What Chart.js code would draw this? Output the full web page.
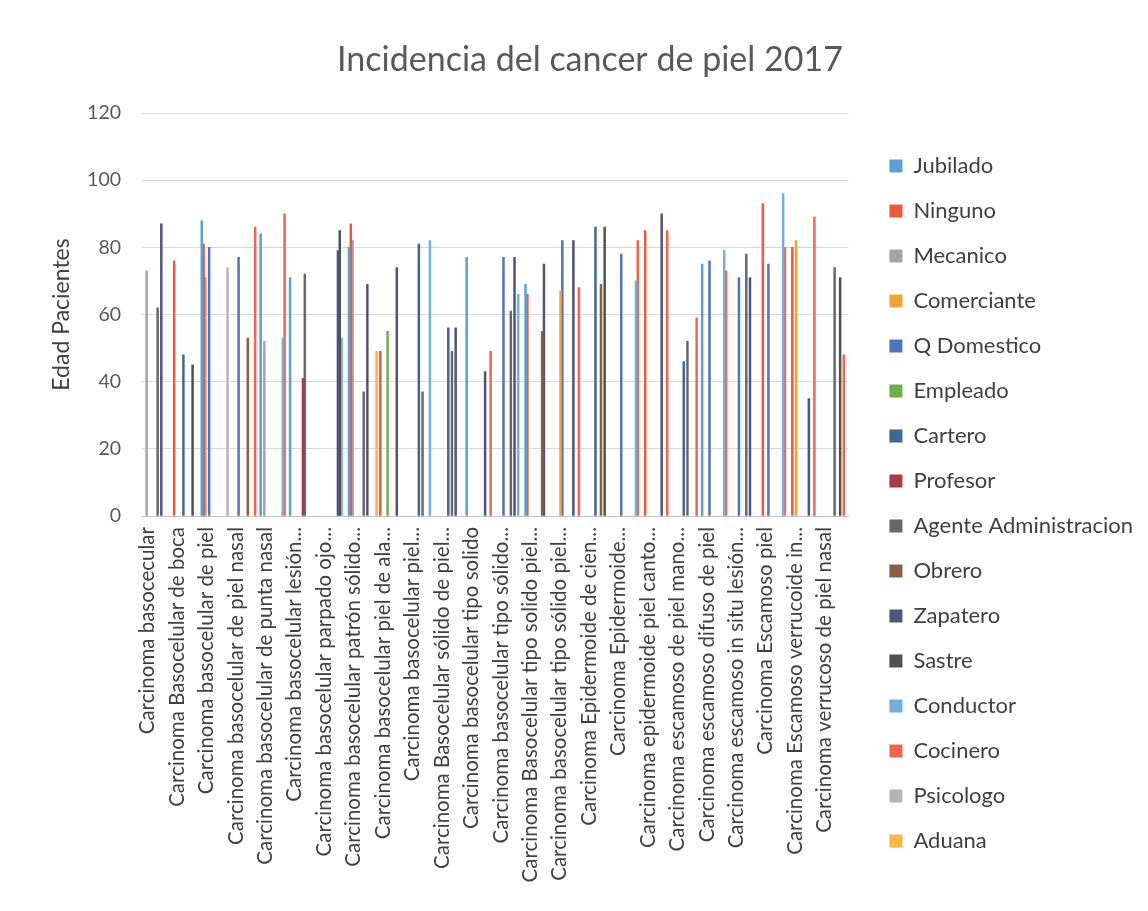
<!DOCTYPE html>
<html>
<head>
<meta charset="utf-8">
<script src="https://cdn.jsdelivr.net/npm/chart.js@4.4.1/dist/chart.umd.min.js"></script>
<style>
  html, body { margin: 0; padding: 0; background: #fff; }
  #wrap { width: 1148px; height: 911px; }
</style>
</head>
<body>
<div id="wrap"><canvas id="chart" width="1148" height="911"></canvas></div>
<script>
const _ = null

const categories = [
  "Carcinoma basocecular",
  "Carcinoma Basocelular de boca",
  "Carcinoma basocelular de piel",
  "Carcinoma basocelular de piel nasal",
  "Carcinoma basocelular de punta nasal",
  "Carcinoma basocelular lesión...",
  "Carcinoma basocelular parpado ojo...",
  "Carcinoma basocelular patrón sólido...",
  "Carcinoma basocelular piel de ala...",
  "Carcinoma basocelular piel...",
  "Carcinoma Basocelular sólido de piel...",
  "Carcinoma basocelular tipo solido",
  "Carcinoma basocelular tipo sólido...",
  "Carcinoma Basocelular tipo solido piel...",
  "Carcinoma basocelular tipo sólido piel...",
  "Carcinoma Epidermoide de cien...",
  "Carcinoma Epidermoide...",
  "Carcinoma epidermoide piel canto...",
  "Carcinoma escamoso de piel mano...",
  "Carcinoma escamoso difuso de piel",
  "Carcinoma escamoso in situ lesión...",
  "Carcinoma Escamoso piel",
  "Carcinoma Escamoso verrucoide in...",
  "Carcinoma verrucoso de piel nasal"
]

// edad de pacientes por ocupación (una por categoría, vacío = sin caso)
const jubilado    = [_, _, 88, _, 84, 71, _, 80, _, _, _, 77, _, 69, _, _, _, _, _, 75, _, _, _, _]
const ninguno     = [_, 76, 81, _, _, _, _, 87, 49, _, _, _, _, 66, _, _, _, 85, _, _, _, 93, 80, _]
const mecanico    = [73, _, 71, _, 52, _, _, 82, _, _, _, _, _, _, _, _, _, _, _, _, _, _, _, _]
const comerciante = [_, _, _, _, _, _, _, _, _, _, _, _, _, _, 67, _, _, _, _, _, _, _, 82, _]
const qDomestico  = [_, _, 80, 77, _, _, _, _, _, _, _, _, 77, _, 82, _, 78, _, _, 76, 71, 75, _, _]
const empleado    = [_, _, _, _, _, _, _, _, 55, _, _, _, _, _, _, _, _, _, _, _, _, _, _, _]
const cartero     = [_, 48, _, _, _, _, _, _, _, 81, 56, _, _, _, _, 86, _, _, 46, _, _, _, _, _]
const profesor    = [_, _, _, _, _, 41, _, _, _, _, _, _, _, _, _, _, _, _, _, _, _, _, _, _]
const agenteAdm   = [62, _, _, _, _, 72, _, 37, _, 37, 49, _, 61, _, _, _, _, _, 52, _, 78, _, _, 74]
const obrero      = [_, _, _, 53, _, _, _, _, _, _, _, _, _, 55, _, 69, _, _, _, _, _, _, _, _]
const zapatero    = [87, _, _, _, _, _, 79, 69, 74, _, 56, 43, 77, 75, 82, _, _, 90, _, _, 71, _, 35, _]
const sastre      = [_, 45, _, _, _, _, 85, _, _, _, _, _, _, _, _, 86, _, _, _, _, _, _, _, 71]
const conductor   = [_, _, _, _, 53, _, 53, _, _, 82, _, _, 66, _, _, _, 70, _, _, 79, _, 96, _, _]
const cocinero    = [_, _, _, 86, 90, _, _, _, _, _, _, 49, _, _, 68, _, 82, 85, 59, 73, _, 80, 89, 48]
const psicologo   = [_, _, 74, _, _, _, _, _, _, _, _, _, _, _, _, _, _, _, _, _, _, _, _, _]
const aduana      = [_, _, _, _, _, _, _, 49, _, _, _, _, _, _, _, _, _, _, _, _, _, _, _, _]

const yTicks = [0, 20, 40, 60, 80, 100, 120]

const series = [
  ["Jubilado", jubilado, "#5b9fd4"],
  ["Ninguno", ninguno, "#eb5a3c"],
  ["Mecanico", mecanico, "#a3a3ad"],
  ["Comerciante", comerciante, "#f5a23a"],
  ["Q Domestico", qDomestico, "#4f74b8"],
  ["Empleado", empleado, "#6dae4f"],
  ["Cartero", cartero, "#3f6790"],
  ["Profesor", profesor, "#a83a48"],
  ["Agente Administracion", agenteAdm, "#66666e"],
  ["Obrero", obrero, "#8e5e42"],
  ["Zapatero", zapatero, "#50547c"],
  ["Sastre", sastre, "#4c544c"],
  ["Conductor", conductor, "#72b0de"],
  ["Cocinero", cocinero, "#ef6650"],
  ["Psicologo", psicologo, "#b5b5b5"],
  ["Aduana", aduana, "#f8b444"]
]

const datasets = series.map(([label, data, color]) => ({
  label,
  data,
  backgroundColor: color,
  borderWidth: 0,
  categoryPercentage: 1.0,
  barPercentage: 1.0
}))

const FONT = "Lato"

new Chart(document.getElementById("chart"), {
  type: "bar",
  data: { labels: categories, datasets },
  options: {
    responsive: false,
    animation: false,
    layout: { padding: { left: 37, top: 10, right: 5, bottom: 0 } },
    plugins: {
      title: {
        display: true,
        text: "Incidencia del cancer de piel 2017",
        color: "#595959",
        font: { family: FONT, size: 34, weight: "normal" },
        padding: { top: 29.6, bottom: 32.6 }
      },
      legend: {
        position: "right",
        align: "start",
        maxWidth: 320,
        // empty title only pushes the list down
        title: { display: true, text: "", font: { size: 10 }, padding: { top: 55, bottom: 55 } },
        labels: {
          color: "#404040",
          font: { family: FONT, size: 22 },
          boxWidth: 13,
          boxHeight: 13,
          padding: 23
        }
      },
      tooltip: { enabled: false }
    },
    scales: {
      x: {
        grid: { display: false },
        border: { display: true, color: "#bfbfbf" },
        ticks: {
          color: "#404040",
          font: { family: FONT, size: 20.5 },
          autoSkip: false,
          maxRotation: 90,
          minRotation: 90,
          labelOffset: -9
        },
        afterFit: (scale) => { scale.height = 395 }
      },
      y: {
        min: 0,
        max: 120,
        afterBuildTicks: (scale) => { scale.ticks = yTicks.map(v => ({ value: v })) },
        grid: { color: "#d9d9d9", drawTicks: false },
        border: { display: false },
        ticks: {
          color: "#595959",
          font: { family: FONT, size: 19.5 },
          padding: 21
        },
        title: {
          display: true,
          text: "Edad Pacientes",
          color: "#404040",
          font: { family: FONT, size: 23 },
          padding: 11
        },
        afterFit: (scale) => { scale.width = 105 }
      },
      gap: {
        type: "linear",
        position: "right",
        grid: { display: false },
        border: { display: false },
        ticks: { display: false },
        afterFit: (scale) => { scale.width = 18 }
      }
    }
  }
})
</script>
</body>
</html>
